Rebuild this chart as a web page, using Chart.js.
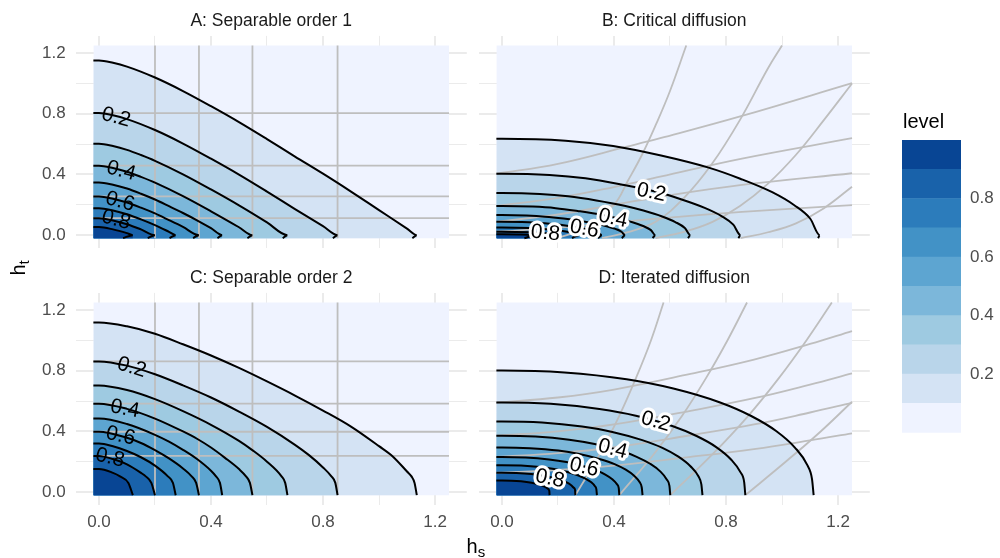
<!DOCTYPE html>
<html><head><meta charset="utf-8">
<script src="https://cdn.jsdelivr.net/npm/chart.js@4.4.1/dist/chart.umd.min.js"></script>
<style>
html,body{margin:0;padding:0;background:#fff}
#wrap{position:relative;width:1000px;height:558px;overflow:hidden;background:#fff}
canvas{position:absolute}
svg{position:absolute;left:0;top:0;pointer-events:none}
</style></head><body>
<div id="wrap">
<canvas id="cA" width="480" height="270" style="left:0px;top:0px"></canvas>
<canvas id="cB" width="410" height="270" style="left:470px;top:0px"></canvas>
<canvas id="cC" width="480" height="298" style="left:0px;top:260px"></canvas>
<canvas id="cD" width="410" height="298" style="left:470px;top:260px"></canvas>
<canvas id="cL" width="98" height="340" style="left:902px;top:120px"></canvas>
<svg width="1000" height="558" font-family="Liberation Sans, Arial, sans-serif">
  <text x="271.2" y="26" font-size="17.5" fill="#1A1A1A" text-anchor="middle">A: Separable order 1</text>
  <text x="674.2" y="26" font-size="17.5" fill="#1A1A1A" text-anchor="middle">B: Critical diffusion</text>
  <text x="271.2" y="283" font-size="17.5" fill="#1A1A1A" text-anchor="middle">C: Separable order 2</text>
  <text x="674.2" y="283" font-size="17.5" fill="#1A1A1A" text-anchor="middle">D: Iterated diffusion</text>
  <text x="466.5" y="553" font-size="20" fill="#000">h<tspan font-size="15" dy="4">s</tspan></text>
  <text transform="translate(24.5,275.5) rotate(-90)" font-size="20" fill="#000">h<tspan font-size="15" dy="4">t</tspan></text>
  <text x="903" y="127.5" font-size="20" fill="#000">level</text>
</svg>
</div>
<script>
// ---------- data ----------
const levels = [0.1,0.2,0.3,0.4,0.5,0.6,0.7,0.8,0.9];
const levelBreaks = [0,0.1,0.2,0.3,0.4,0.5,0.6,0.7,0.8,0.9,1.0];
const binColors = ['#EFF3FF','#D4E3F4','#B9D5EA','#9ECAE1','#7CB7DA','#5DA5D1','#4292C6','#2C7CBB','#1962AA','#084594'];
const tickValues = [0,0.2,0.4,0.6,0.8,1.0,1.2];
const majorTicks = [0,0.4,0.8,1.2];
const legendTicks = [0.2,0.4,0.6,0.8];
const dataExtent = [-0.02,1.25];
const axisRange = [-0.0835,1.3135];

// Panel A: separable order 1 (contour lines, levels 0.1..0.9)
const contoursA = [
 [[-0.02,1.151],[0,1.151],[0.05,1.136],[0.1,1.111],[0.2,1.039],[0.3,0.95],[0.4,0.85],[0.5,0.745],[0.6,0.633],[0.7,0.518],[0.8,0.405],[0.9,0.287],[1.0,0.165],[1.1,0.043],[1.135,0],[1.119,-0.02]],
 [[-0.02,0.805],[0,0.805],[0.05,0.79],[0.1,0.765],[0.2,0.693],[0.3,0.604],[0.4,0.504],[0.5,0.399],[0.6,0.287],[0.7,0.172],[0.8,0.059],[0.852,0],[0.835,-0.02]],
 [[-0.02,0.602],[0,0.602],[0.05,0.587],[0.1,0.562],[0.15,0.528],[0.2,0.49],[0.3,0.401],[0.4,0.301],[0.5,0.196],[0.6,0.084],[0.673,0],[0.656,-0.02]],
 [[-0.02,0.458],[0,0.458],[0.05,0.443],[0.1,0.418],[0.15,0.384],[0.2,0.346],[0.3,0.257],[0.4,0.157],[0.5,0.052],[0.548,0],[0.53,-0.02]],
 [[-0.02,0.347],[0,0.347],[0.05,0.332],[0.1,0.307],[0.15,0.273],[0.2,0.235],[0.25,0.191],[0.3,0.146],[0.35,0.098],[0.4,0.046],[0.44,0],[0.423,-0.02]],
 [[-0.02,0.255],[0,0.255],[0.05,0.24],[0.1,0.215],[0.15,0.181],[0.2,0.143],[0.25,0.099],[0.3,0.054],[0.357,0],[0.336,-0.02]],
 [[-0.02,0.178],[0,0.178],[0.05,0.163],[0.1,0.138],[0.15,0.104],[0.2,0.066],[0.25,0.022],[0.274,0],[0.252,-0.02]],
 [[-0.02,0.112],[0,0.112],[0.05,0.097],[0.1,0.072],[0.15,0.038],[0.2,0],[0.174,-0.02]],
 [[-0.02,0.053],[0,0.053],[0.05,0.038],[0.1,0.013],[0.121,0],[0.086,-0.02]]
];
const guideXA = [0.2,0.357,0.548,0.852];
const guideYA = [0.805,0.458,0.255,0.112];
const labelsA = [[0.2,0.061,0.776],[0.4,0.079,0.423],[0.6,0.075,0.22],[0.8,0.061,0.1]];

// Panel B: critical diffusion
const contoursB = [
 [[-0.02,0.636],[0,0.636],[0.227,0.623],[0.397,0.588],[0.568,0.525],[0.738,0.445],[0.851,0.372],[0.965,0.283],[1.044,0.197],[1.101,0.108],[1.135,0],[1.129,-0.02]],
 [[-0.02,0.405],[0,0.405],[0.17,0.397],[0.298,0.375],[0.426,0.334],[0.554,0.284],[0.639,0.237],[0.724,0.18],[0.784,0.126],[0.826,0.069],[0.852,0],[0.844,-0.02]],
 [[-0.02,0.277],[0,0.277],[0.135,0.271],[0.236,0.256],[0.337,0.229],[0.437,0.194],[0.505,0.162],[0.572,0.123],[0.619,0.086],[0.653,0.047],[0.673,0],[0.664,-0.02]],
 [[-0.02,0.192],[0,0.192],[0.11,0.188],[0.192,0.178],[0.274,0.158],[0.356,0.134],[0.411,0.112],[0.466,0.085],[0.504,0.06],[0.532,0.033],[0.548,0],[0.538,-0.02]],
 [[-0.02,0.132],[0,0.132],[0.088,0.129],[0.154,0.122],[0.22,0.109],[0.286,0.092],[0.33,0.077],[0.374,0.059],[0.405,0.041],[0.427,0.022],[0.44,0],[0.428,-0.02]],
 [[-0.02,0.088],[0,0.088],[0.071,0.086],[0.125,0.081],[0.179,0.073],[0.232,0.062],[0.268,0.051],[0.303,0.039],[0.328,0.027],[0.346,0.015],[0.357,0],[0.343,-0.02]],
 [[-0.02,0.051],[0,0.051],[0.096,0.047],[0.178,0.036],[0.233,0.023],[0.266,0.009],[0.274,0],[0.25,-0.02]],
 [[-0.02,0.023],[0,0.023],[0.1,0.019],[0.15,0.013],[0.184,0.007],[0.2,0],[0.16,-0.02]],
 [[-0.02,0.006],[0,0.006],[0.06,0.005],[0.11,0.002],[0.121,0],[0.08,-0.02]]
];
const guidesB = [
 [[0.2,-0.02],[0.3,0.05],[0.4,0.2],[0.45,0.36],[0.5,0.53],[0.55,0.73],[0.6,0.95],[0.658,1.25]],
 [[0.357,-0.02],[0.45,0.02],[0.55,0.09],[0.65,0.245],[0.75,0.47],[0.85,0.76],[0.95,1.1],[1.0,1.25]],
 [[0.548,-0.02],[0.65,0.022],[0.75,0.086],[0.85,0.192],[0.95,0.34],[1.05,0.53],[1.15,0.76],[1.25,1.0]],
 [[0.852,-0.02],[0.95,0.019],[1.05,0.078],[1.15,0.178],[1.25,0.319]],
 [[-0.02,0.405],[0.2,0.47],[0.446,0.583],[0.565,0.639],[0.857,0.786],[1.25,1.002]],
 [[-0.02,0.192],[0.2,0.246],[0.4,0.317],[0.565,0.385],[0.857,0.505],[1.25,0.639]],
 [[-0.02,0.088],[0.2,0.136],[0.4,0.2],[0.565,0.253],[0.857,0.331],[1.25,0.408]],
 [[-0.02,0.023],[0.2,0.049],[0.4,0.083],[0.565,0.11],[0.857,0.153],[1.25,0.198]]
];
const labelsB = [[0.2,0.533,0.281],[0.4,0.396,0.11],[0.6,0.294,0.04],[0.8,0.155,0.013]];

// Panel C: separable order 2
const contoursC = [
 [[-0.02,1.118],[0,1.118],[0.1,1.093],[0.2,1.044],[0.3,0.975],[0.4,0.901],[0.5,0.819],[0.6,0.73],[0.7,0.637],[0.8,0.538],[0.9,0.432],[1.0,0.303],[1.05,0.234],[1.1,0.136],[1.116,0.104],[1.127,0.061],[1.135,-0.02]],
 [[-0.02,0.862],[0,0.862],[0.1,0.834],[0.2,0.777],[0.3,0.704],[0.4,0.624],[0.5,0.531],[0.6,0.43],[0.7,0.312],[0.75,0.244],[0.8,0.163],[0.83,0.104],[0.844,0.061],[0.852,-0.02]],
 [[-0.02,0.703],[0,0.703],[0.1,0.673],[0.2,0.613],[0.3,0.534],[0.4,0.444],[0.5,0.338],[0.55,0.274],[0.6,0.201],[0.652,0.104],[0.665,0.061],[0.673,-0.02]],
 [[-0.02,0.583],[0,0.583],[0.1,0.549],[0.2,0.485],[0.3,0.4],[0.35,0.352],[0.4,0.294],[0.45,0.226],[0.5,0.152],[0.525,0.104],[0.539,0.061],[0.548,-0.02]],
 [[-0.02,0.485],[0,0.485],[0.1,0.449],[0.2,0.378],[0.25,0.333],[0.3,0.279],[0.35,0.218],[0.4,0.141],[0.418,0.104],[0.432,0.061],[0.44,-0.02]],
 [[-0.02,0.398],[0,0.398],[0.1,0.358],[0.15,0.324],[0.2,0.277],[0.25,0.222],[0.3,0.156],[0.331,0.104],[0.347,0.061],[0.357,-0.02]],
 [[-0.02,0.32],[0,0.32],[0.05,0.302],[0.1,0.271],[0.15,0.23],[0.2,0.175],[0.246,0.104],[0.264,0.061],[0.274,-0.02]],
 [[-0.02,0.239],[0,0.239],[0.05,0.218],[0.1,0.183],[0.15,0.127],[0.167,0.104],[0.187,0.061],[0.2,-0.02]],
 [[-0.02,0.153],[0,0.153],[0.05,0.127],[0.075,0.104],[0.105,0.061],[0.121,-0.02]]
];
const guideXC = [0.2,0.357,0.548,0.852];
const guideYC = [0.862,0.583,0.398,0.239];
const labelsC = [[0.2,0.117,0.822],[0.4,0.093,0.548],[0.6,0.077,0.371],[0.8,0.039,0.226]];

// Panel D: iterated diffusion
const contoursD = [
 [[-0.02,0.802],[0,0.802],[0.223,0.789],[0.445,0.744],[0.612,0.683],[0.779,0.591],[0.89,0.502],[0.979,0.403],[1.046,0.294],[1.091,0.176],[1.107,0.088],[1.113,-0.02]],
 [[-0.02,0.591],[0,0.591],[0.174,0.582],[0.348,0.548],[0.478,0.504],[0.608,0.436],[0.695,0.37],[0.765,0.297],[0.817,0.217],[0.852,0.13],[0.865,0.065],[0.869,-0.02]],
 [[-0.02,0.466],[0,0.466],[0.143,0.459],[0.286,0.432],[0.394,0.397],[0.501,0.343],[0.573,0.292],[0.63,0.234],[0.673,0.171],[0.702,0.103],[0.712,0.051],[0.716,-0.02]],
 [[-0.02,0.372],[0,0.372],[0.12,0.366],[0.24,0.345],[0.331,0.317],[0.421,0.274],[0.481,0.233],[0.529,0.187],[0.565,0.137],[0.589,0.082],[0.598,0.041],[0.601,-0.02]],
 [[-0.02,0.295],[0,0.295],[0.1,0.29],[0.201,0.274],[0.276,0.251],[0.351,0.217],[0.402,0.185],[0.442,0.148],[0.472,0.108],[0.492,0.065],[0.499,0.032],[0.502,-0.02]],
 [[-0.02,0.232],[0,0.232],[0.084,0.228],[0.168,0.215],[0.23,0.198],[0.293,0.171],[0.335,0.145],[0.369,0.116],[0.394,0.085],[0.411,0.051],[0.417,0.026],[0.419,-0.02]],
 [[-0.02,0.178],[0,0.178],[0.068,0.175],[0.136,0.165],[0.186,0.152],[0.237,0.131],[0.271,0.111],[0.298,0.089],[0.319,0.065],[0.332,0.039],[0.337,0.02],[0.339,-0.02]],
 [[-0.02,0.128],[0,0.128],[0.052,0.126],[0.105,0.119],[0.144,0.109],[0.183,0.094],[0.21,0.08],[0.231,0.064],[0.246,0.047],[0.257,0.028],[0.261,0.014],[0.262,-0.02]],
 [[-0.02,0.076],[0,0.076],[0.034,0.075],[0.068,0.071],[0.094,0.065],[0.119,0.056],[0.136,0.048],[0.15,0.038],[0.16,0.028],[0.167,0.017],[0.169,0.008],[0.17,-0.02]]
];
const guidesD = [
 [[0.262,-0.02],[0.349,0.25],[0.418,0.5],[0.478,0.75],[0.532,1.0],[0.577,1.25]],
 [[0.419,-0.02],[0.542,0.25],[0.642,0.5],[0.728,0.75],[0.805,1.0],[0.875,1.25]],
 [[0.601,-0.02],[0.752,0.25],[0.878,0.5],[0.988,0.75],[1.087,1.0],[1.178,1.25]],
 [[0.869,-0.02],[1.013,0.2],[1.138,0.4],[1.25,0.596]],
 [[-0.02,0.591],[0.2,0.624],[0.4,0.676],[0.673,0.779],[0.9,0.874],[1.1,0.977],[1.25,1.062]],
 [[-0.02,0.372],[0.2,0.401],[0.4,0.446],[0.673,0.536],[0.9,0.619],[1.1,0.709],[1.25,0.783]],
 [[-0.02,0.232],[0.2,0.257],[0.4,0.296],[0.673,0.375],[0.9,0.446],[1.1,0.525],[1.25,0.589]],
 [[-0.02,0.128],[0.2,0.146],[0.4,0.175],[0.673,0.232],[0.9,0.284],[1.1,0.341],[1.25,0.388]]
];
const labelsD = [[0.2,0.549,0.465],[0.4,0.395,0.284],[0.6,0.293,0.163],[0.8,0.171,0.088]];

// ---------- rendering ----------
const FONT = '"Liberation Sans", Arial, sans-serif';
const TICK_COLOR = '#4D4D4D';
const GRID_COLOR = '#EBEBEB';
const GUIDE_COLOR = '#BEBEBE';
const isMajor = v => majorTicks.some(m => Math.abs(m - v) < 1e-9);

function straightGuides(xs, ys) {
  const out = [];
  xs.forEach(v => out.push([[v, dataExtent[0]], [v, dataExtent[1]]]));
  ys.forEach(v => out.push([[dataExtent[0], v], [dataExtent[1], v]]));
  return out;
}

const contourLabelPlugin = {
  id: 'contourLabels',
  afterDatasetsDraw(chart, args, opts) {
    if (!opts || !opts.items) return;
    const {ctx} = chart; const xs = chart.scales.x, ys = chart.scales.y;
    ctx.save();
    ctx.font = '21px ' + FONT;
    ctx.textAlign = 'center'; ctx.textBaseline = 'middle';
    for (const [lev, lx, ly] of opts.items) {
      const pts = opts.contours[Math.round(lev * 10) - 1];
      let ang = 0;
      for (let i = 0; i < pts.length - 1; i++) {
        const a = pts[i], b = pts[i + 1];
        if (b[0] > a[0] && lx >= a[0] && lx <= b[0]) {
          ang = Math.atan2(ys.getPixelForValue(b[1]) - ys.getPixelForValue(a[1]),
                           xs.getPixelForValue(b[0]) - xs.getPixelForValue(a[0]));
          break;
        }
      }
      const txt = lev.toFixed(1);
      ctx.save();
      ctx.translate(xs.getPixelForValue(lx), ys.getPixelForValue(ly));
      ctx.rotate(ang);
      if (opts.halo) {
        ctx.strokeStyle = '#fff'; ctx.lineWidth = 6; ctx.lineJoin = 'round';
        ctx.strokeText(txt, 0, 0);
      }
      ctx.fillStyle = '#000';
      ctx.fillText(txt, 0, 0);
      ctx.restore();
    }
    ctx.restore();
  }
};

function panel(id, cfg) {
  const toXY = pts => pts.map(p => ({x: p[0], y: p[1]}));
  const datasets = [];
  datasets.push({data: toXY([[dataExtent[0], dataExtent[1]], [dataExtent[1], dataExtent[1]]]),
    fill: {value: dataExtent[0]}, backgroundColor: binColors[0], borderWidth: 0, pointRadius: 0, order: 40});
  cfg.contours.forEach((pts, i) => {
    const line = toXY(pts);
    const fillPts = line.slice();
    const n = fillPts.length;
    if (fillPts[n - 1].x < fillPts[n - 2].x) fillPts[n - 1] = {x: fillPts[n - 2].x, y: dataExtent[0]};
    datasets.push({data: fillPts, fill: {value: dataExtent[0]}, backgroundColor: binColors[i + 1],
      borderWidth: 0, pointRadius: 0, cubicInterpolationMode: 'monotone', order: 39 - i});
    datasets.push({data: line, fill: false, borderColor: '#000', borderWidth: 2, pointRadius: 0,
      cubicInterpolationMode: 'monotone', order: 1});
  });
  cfg.guides.forEach(g => datasets.push({data: toXY(g), fill: false, borderColor: GUIDE_COLOR,
    borderWidth: 1.8, pointRadius: 0, tension: g.length > 2 ? 0.4 : 0, order: 5}));

  const gridCfg = {color: GRID_COLOR, lineWidth: c => (c.tick && isMajor(c.tick.value)) ? 2 : 1, drawTicks: false};
  new Chart(document.getElementById(id), {
    type: 'line',
    data: {datasets},
    plugins: [contourLabelPlugin],
    options: {
      responsive: false, animation: false, events: [],
      layout: {padding: cfg.pad},
      plugins: {legend: {display: false}, tooltip: {enabled: false},
        contourLabels: {items: cfg.labels, contours: cfg.contours, halo: cfg.halo}},
      scales: {
        x: {type: 'linear', min: axisRange[0], max: axisRange[1],
          afterBuildTicks: s => { s.ticks = tickValues.map(v => ({value: v})); },
          afterFit: s => { s.height = cfg.xh; },
          grid: gridCfg, border: {display: false},
          ticks: {display: cfg.xl, autoSkip: false, maxRotation: 0, minRotation: 0, padding: 7,
            font: {family: FONT, size: 17}, color: TICK_COLOR,
            callback: v => isMajor(v) ? v.toFixed(1) : ''}},
        y: {type: 'linear', min: axisRange[0], max: axisRange[1],
          afterBuildTicks: s => { s.ticks = tickValues.map(v => ({value: v})); },
          afterFit: s => { s.width = cfg.yw; },
          grid: gridCfg, border: {display: false},
          ticks: {display: cfg.yl, autoSkip: false, padding: 10,
            font: {family: FONT, size: 17}, color: TICK_COLOR,
            callback: v => isMajor(v) ? v.toFixed(1) : ''}}
      }
    }
  });
}

panel('cA', {contours: contoursA, guides: straightGuides(guideXA, guideYA), labels: labelsA, halo: false,
  pad: {left: 0, top: 35.9, right: 13.2, bottom: 22.2}, xh: 0, yw: 75.6, xl: false, yl: true});
panel('cB', {contours: contoursB, guides: guidesB, labels: labelsB, halo: true,
  pad: {left: 8.6, top: 35.9, right: 10.2, bottom: 22.2}, xh: 0, yw: 0, xl: false, yl: false});
panel('cC', {contours: contoursC, guides: straightGuides(guideXC, guideYC), labels: labelsC, halo: false,
  pad: {left: 0, top: 32.9, right: 13.2, bottom: 23.2}, xh: 30, yw: 75.6, xl: true, yl: true});
panel('cD', {contours: contoursD, guides: guidesD, labels: labelsD, halo: true,
  pad: {left: 8.6, top: 32.9, right: 10.2, bottom: 23.2}, xh: 30, yw: 0, xl: true, yl: false});

// colour-step legend
new Chart(document.getElementById('cL'), {
  type: 'bar',
  data: {labels: ['level'], datasets: binColors.map((c, i) => ({
    data: [levelBreaks[i + 1] - levelBreaks[i]], backgroundColor: c, borderWidth: 0,
    barPercentage: 1, categoryPercentage: 1}))},
  options: {
    responsive: false, animation: false, events: [],
    layout: {padding: {left: 0, top: 20, right: 0, bottom: 27.3}},
    plugins: {legend: {display: false}, tooltip: {enabled: false}},
    scales: {
      x: {display: false, stacked: true},
      y: {stacked: true, position: 'right', min: 0, max: 1,
        afterBuildTicks: s => { s.ticks = legendTicks.map(v => ({value: v})); },
        afterFit: s => { s.width = 39; },
        grid: {display: false, drawTicks: false}, border: {display: false},
        ticks: {padding: 9, font: {family: FONT, size: 17}, color: TICK_COLOR,
          callback: v => v.toFixed(1)}}
    }
  }
});
</script>
</body></html>
